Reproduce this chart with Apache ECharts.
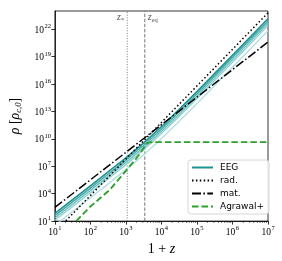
<!DOCTYPE html>
<html><head><meta charset="utf-8">
<script src="https://cdn.jsdelivr.net/npm/echarts@6/dist/echarts.min.js"></script>
<style>html,body{margin:0;padding:0;background:#fff}#c{width:282px;height:261px}</style>
</head><body><div id="c"></div>
<script>
// log10(1+z) sample positions and log10(rho) values
const eegLogX = [1, 1.5, 2, 2.5, 3, 3.25, 3.5, 3.75, 4, 4.5, 5, 6, 7];
const eeg1 = [1.85, 3.35, 4.86, 6.38, 7.93, 8.73, 9.56, 10.43, 11.33, 13.22, 15.17, 19.15, 23.15];
const eeg2 = [1.60, 3.10, 4.61, 6.13, 7.68, 8.48, 9.31, 10.18, 11.08, 12.97, 14.92, 18.90, 22.90];
const eeg3 = [1.35, 2.85, 4.36, 5.88, 7.43, 8.23, 9.06, 9.93, 10.83, 12.72, 14.67, 18.65, 22.65];
const eeg4 = [1.10, 2.60, 4.11, 5.63, 7.18, 7.98, 8.81, 9.68, 10.58, 12.47, 14.42, 18.40, 22.40];
const eeg5 = [0.55, 2.05, 3.56, 5.08, 6.63, 7.43, 8.26, 9.13, 10.03, 11.92, 13.87, 17.85, 21.85];
const radLogX = [1, 7];
const radLog = [-0.2, 23.8];
const matLogX = [1, 7];
const matLog = [2.5, 20.6];
const agrLogX = [1.6, 2.0, 2.54, 3.0, 3.3, 3.45, 3.53, 3.6, 3.68, 3.8, 7];
const agrLog = [1.0, 2.6, 4.4, 6.5, 7.9, 8.7, 9.2, 9.5, 9.63, 9.65, 9.65];
const zStar = 1090;
const zEq = 3400;
const labelLogY = 23.2;
const xMinorMant = [2, 3, 4, 5, 6, 7, 8, 9];
const xMinorDecades = [1, 2, 3, 4, 5, 6];

const pts = (lx, ly) => lx.map((v, i) => [Math.pow(10, v), Math.pow(10, ly[i])]);
const minorData = [];
xMinorDecades.forEach(d => xMinorMant.forEach(m => minorData.push([m * Math.pow(10, d), 10])));

const serif = 'Liberation Serif';
const supRich = {
  b: { fontFamily: serif, fontSize: 9.5, color: '#000', lineHeight: 12, verticalAlign: 'bottom' },
  e: { fontFamily: serif, fontSize: 6.5, color: '#000', lineHeight: 12, verticalAlign: 'top', padding: [0, 0, 0, 0.5] }
};
const fmt = v => '{b|10}{e|' + Math.round(Math.log10(v)) + '}';

const lineS = (name, data, color, width, type, z) => ({
  name, type: 'line', data, symbol: 'none', showSymbol: false, silent: true, z: z || 2,
  lineStyle: { color, width, type: type || 'solid', cap: 'butt' }, itemStyle: { color }, animation: false
});

const series = [
  lineS('EEG', pts(eegLogX, eeg1), '#1f9393', 1.7, 'solid', 6),
  lineS('EEG2', pts(eegLogX, eeg2), '#45a9a9', 1.4, 'solid', 5),
  lineS('EEG3', pts(eegLogX, eeg3), '#6fbfbf', 1.4, 'solid', 4),
  lineS('EEG4', pts(eegLogX, eeg4), '#93d1d1', 1.4, 'solid', 3),
  lineS('EEG5', pts(eegLogX, eeg5), '#b3e0e3', 1.4, 'solid', 2),
  lineS('rad.', pts(radLogX, radLog), '#000', 1.5, [1.5, 2.4], 7),
  lineS('mat.', pts(matLogX, matLog), '#000', 1.5, [9, 2.4, 1.5, 2.4], 7),
  lineS('Agrawal+', pts(agrLogX, agrLog), '#2ca02c', 1.8, [6.5, 3], 8),
  lineS('zstar', [[zStar, 10], [zStar, 1e24]], '#777', 1, [1, 1.6], 1),
  lineS('zeq', [[zEq, 10], [zEq, 1e24]], '#777', 1, [3.5, 1.6], 1),
  {
    name: 'labels', type: 'scatter', symbolSize: 0, silent: true, animation: false,
    data: [
      { value: [zStar, Math.pow(10, labelLogY)], label: { show: true, position: 'left', distance: 3, formatter: '{i|z}{s|*}' } },
      { value: [zEq, Math.pow(10, labelLogY)], label: { show: true, position: 'right', distance: 3, formatter: '{i|z}{s|eq}' } }
    ],
    label: {
      rich: {
        i: { fontFamily: serif, fontStyle: 'italic', fontSize: 10, color: '#222', lineHeight: 11, verticalAlign: 'top' },
        s: { fontFamily: serif, fontSize: 6.5, color: '#222', lineHeight: 11, verticalAlign: 'bottom' }
      }
    }
  },
  {
    name: 'minor', type: 'scatter', data: minorData, symbol: 'rect', symbolSize: [0.6, 2],
    symbolOffset: [0, 1], clip: false, silent: true, animation: false, itemStyle: { color: '#000' }
  }
];

const chart = echarts.init(document.getElementById('c'), null, { renderer: 'canvas' });
chart.setOption({
  animation: false,
  backgroundColor: '#fff',
  grid: { left: 50, right: 14, top: 11, bottom: 39, show: true, borderColor: '#000', borderWidth: 0.8, backgroundColor: 'transparent' },
  legend: {
    data: ['EEG', 'rad.', 'mat.', 'Agrawal+'],
    orient: 'vertical', left: 188, top: 160, itemWidth: 21, itemHeight: 10, itemGap: 4,
    padding: [3, 5, 3, 3], borderColor: '#ccc', borderWidth: 0.8, borderRadius: 3, backgroundColor: 'rgba(255,255,255,0.85)',
    itemStyle: { color: 'transparent', borderWidth: 0, opacity: 0 },
    textStyle: { fontFamily: 'DejaVu Sans', fontSize: 9, color: '#000', padding: [0, 0, 0, 2] }
  },
  xAxis: {
    type: 'log', logBase: 10, min: 10, max: 1e7, interval: 1,
    name: '{r|1 + }{i|z}', nameLocation: 'middle', nameGap: 16,
    nameTextStyle: { rich: { r: { fontFamily: serif, fontSize: 14, color: '#000' }, i: { fontFamily: serif, fontStyle: 'italic', fontSize: 14, color: '#000' } } },
    axisLine: { show: true, lineStyle: { color: '#000', width: 0.8 } },
    axisTick: { show: true, length: 3.5, lineStyle: { color: '#000', width: 0.8 } },
    axisLabel: { formatter: fmt, margin: 4, rich: supRich },
    splitLine: { show: false }, minorTick: { show: false }
  },
  yAxis: {
    type: 'log', logBase: 10, min: 10, max: 1e24, interval: 3,
    name: '{i|ρ} {r|[}{i|ρ}{s|c,0}{r|]}', nameLocation: 'middle', nameGap: 27, nameRotate: 90,
    nameTextStyle: { rich: {
      r: { fontFamily: serif, fontSize: 14, color: '#000' },
      i: { fontFamily: serif, fontStyle: 'italic', fontSize: 14, color: '#000' },
      s: { fontFamily: serif, fontStyle: 'italic', fontSize: 8.5, color: '#000', verticalAlign: 'bottom', lineHeight: 17 }
    } },
    axisLine: { show: true, lineStyle: { color: '#000', width: 0.8 } },
    axisTick: { show: true, length: 3.5, lineStyle: { color: '#000', width: 0.8 } },
    axisLabel: { formatter: fmt, margin: 4, rich: supRich, showMaxLabel: false },
    splitLine: { show: false }, minorTick: { show: false }
  },
  series
});
</script></body></html>
